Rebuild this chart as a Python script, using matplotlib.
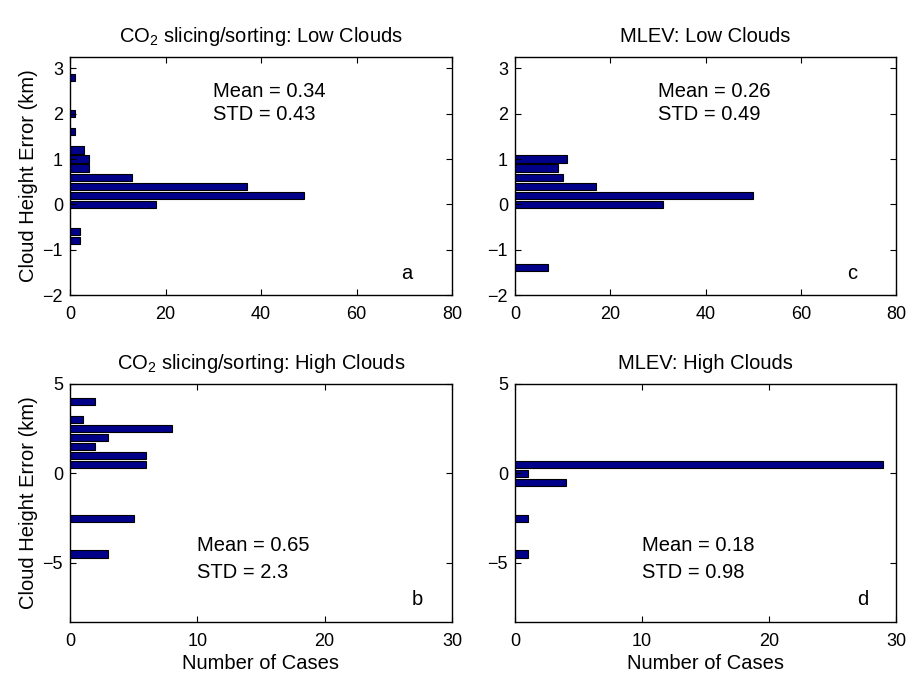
import numpy as np
import matplotlib
matplotlib.use("Agg")
import matplotlib.pyplot as plt

plt.rcParams['font.family'] = ['Liberation Sans', 'DejaVu Sans']
plt.rcParams['mathtext.fontset'] = 'custom'
plt.rcParams['mathtext.rm'] = 'Liberation Sans'
plt.rcParams['mathtext.it'] = 'Liberation Sans:italic'

# low clouds, 0.2 km bins
co2_low_err = [-0.8, -0.6, 0.0, 0.2, 0.4, 0.6, 0.8, 1.0, 1.2, 1.6, 2.0, 2.8]
co2_low_n = [2, 2, 18, 49, 37, 13, 4, 4, 3, 1, 1, 1]
mlev_low_err = [-1.4, 0.0, 0.2, 0.4, 0.6, 0.8, 1.0]
mlev_low_n = [7, 31, 50, 17, 10, 9, 11]

# high clouds, 0.5 km bins
co2_high_err = [-4.5, -2.5, 0.5, 1.0, 1.5, 2.0, 2.5, 3.0, 4.0]
co2_high_n = [3, 5, 6, 6, 2, 3, 8, 1, 2]
mlev_high_err = [-4.5, -2.5, -0.5, 0.0, 0.5]
mlev_high_n = [1, 1, 4, 1, 29]

titles = ["CO$_2$ slicing/sorting: Low Clouds", "MLEV: Low Clouds",
          "CO$_2$ slicing/sorting: High Clouds", "MLEV: High Clouds"]
stats = [("0.34", "0.43"), ("0.26", "0.49"), ("0.65", "2.3"), ("0.18", "0.98")]
letters = ["a", "c", "b", "d"]

fig = plt.figure(figsize=(9.09, 6.74), dpi=100)
W, H = 909, 674
def add_ax(l, r, t, b):
    return fig.add_axes([l / W, 1 - b / H, (r - l) / W, (b - t) / H])

ax_a = add_ax(70, 452, 57, 295)
ax_c = add_ax(515, 896, 57, 295)
ax_b = add_ax(70, 452, 384, 622)
ax_d = add_ax(515, 896, 384, 622)

bar_col = '#000088'
fs = 14.5
panels = [
    (ax_a, co2_low_err, co2_low_n, 0.2, (0, 80), (-2, 3.25), [0, 20, 40, 60, 80], [-2, -1, 0, 1, 2, 3]),
    (ax_c, mlev_low_err, mlev_low_n, 0.2, (0, 80), (-2, 3.25), [0, 20, 40, 60, 80], [-2, -1, 0, 1, 2, 3]),
    (ax_b, co2_high_err, co2_high_n, 0.5, (0, 30), (-8.3, 5), [0, 10, 20, 30], [-5, 0, 5]),
    (ax_d, mlev_high_err, mlev_high_n, 0.5, (0, 30), (-8.3, 5), [0, 10, 20, 30], [-5, 0, 5]),
]

for i, (ax, err, n, bw, xl, yl, xt, yt) in enumerate(panels):
    ax.barh(err, n, height=bw * 0.8, color=bar_col, edgecolor='black', linewidth=0.8)
    ax.set_xlim(*xl)
    ax.set_ylim(*yl)
    ax.set_xticks(xt)
    ax.set_yticks(yt)
    ax.tick_params(direction='in', top=True, right=True, length=4, labelsize=13)
    ax.tick_params(axis='x', pad=8)
    ax.tick_params(axis='y', pad=5)
    ax.set_title(titles[i], fontsize=fs, pad=11)
    for s in ax.spines.values():
        s.set_linewidth(1.0)

# stats text
ax_a.text(30, 2.49, "Mean = " + stats[0][0], fontsize=fs, va='center')
ax_a.text(30, 1.98, "STD = " + stats[0][1], fontsize=fs, va='center')
ax_c.text(30, 2.49, "Mean = " + stats[1][0], fontsize=fs, va='center')
ax_c.text(30, 1.98, "STD = " + stats[1][1], fontsize=fs, va='center')
ax_b.text(10, -4.05, "Mean = " + stats[2][0], fontsize=fs, va='center')
ax_b.text(10, -5.56, "STD = " + stats[2][1], fontsize=fs, va='center')
ax_d.text(10, -4.05, "Mean = " + stats[3][0], fontsize=fs, va='center')
ax_d.text(10, -5.56, "STD = " + stats[3][1], fontsize=fs, va='center')

ax_a.text(70.6, -1.53, letters[0], fontsize=fs, ha='center', va='center')
ax_c.text(70.8, -1.53, letters[1], fontsize=fs, ha='center', va='center')
ax_b.text(27.3, -7.07, letters[2], fontsize=fs, ha='center', va='center')
ax_d.text(27.4, -7.07, letters[3], fontsize=fs, ha='center', va='center')

ax_a.set_ylabel("Cloud Height Error (km)", fontsize=fs, labelpad=3)
ax_b.set_ylabel("Cloud Height Error (km)", fontsize=fs, labelpad=3)
ax_b.set_xlabel("Number of Cases", fontsize=fs, labelpad=3)
ax_d.set_xlabel("Number of Cases", fontsize=fs, labelpad=3)

fig.savefig("out.png", dpi=100)
